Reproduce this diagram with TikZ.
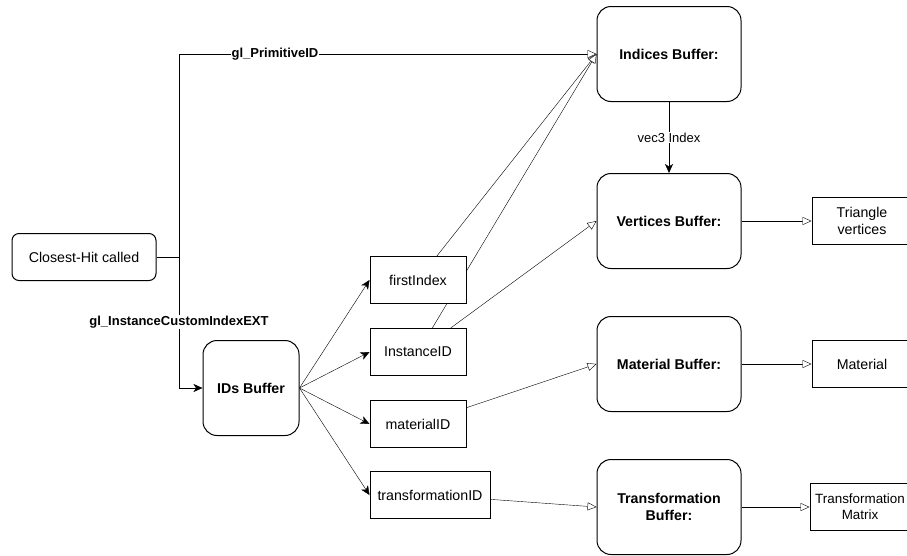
\documentclass[tikz,border=0pt]{standalone}
\usepackage{fontspec}
\setmainfont{Liberation Sans}
\usetikzlibrary{arrows.meta,positioning,backgrounds}

\begin{document}
\begin{tikzpicture}[x=1pt,y=-1pt]
    \tikzset{buffer/.style= {draw, rectangle
    , rounded corners=14pt
    , fill=white, line width=1pt
    , minimum width=144pt, minimum height=95pt
    , align=center
    , font=\fontsize{14.2}{16.5}\selectfont\bfseries
      }
    , field/.style= {draw, rectangle
    , fill=white, line width=1pt
    , minimum width=96pt, minimum height=47pt
    , align=center
    , font=\fontsize{14.2}{16.5}\selectfont
      }
    , lbl/.style= {fill=white, inner sep=1pt
    , font=\fontsize{13}{15}\selectfont\bfseries
      }
    , solid arrow/.style={-{Stealth[length=9pt,width=8pt,inset=2.5pt]}}
    , open arrow/.style={-{Triangle[open,length=9pt,width=8pt,fill=white]}}
    }

\useasboundingbox (0,0) rectangle (907,555);

\node [field, rounded corners=7pt, minimum width=144pt] (hit) at (84,257) {Closest-Hit called};
\node [buffer, minimum width=96pt] (ids) at (251,388) {IDs Buffer};

\node [field] (first) at (418,280) {firstIndex};
\node [field] (inst) at (418,352) {InstanceID};
\node [field] (matid) at (418,424) {materialID};
\node [field, minimum width=120pt] (transid) at (430,495) {transformationID};

\node [buffer] (indices) at (669,54) {Indices Buffer:};
\node [buffer] (vertices) at (669,221) {Vertices Buffer:};
\node [buffer] (material) at (669,364) {Material Buffer:};
\node [buffer] (transbuf) at (669,507) {Transformation\\Buffer:};

\node [field, minimum width=100pt] (tri) at (862,221) {Triangle\\vertices};
\node [field, minimum width=100pt] (mat) at (862,364) {Material};
\node [field, minimum width=100pt, font=\fontsize{13.4}{16}\selectfont] (transmat) at (860,507) {Transformation\\Matrix};

\begin{scope}[on background layer, line width=1pt]
\coordinate (split) at (179,257);
\draw (hit) -- (split);
\draw[open arrow] (split) |- node[lbl, pos=0.615] {gl\_PrimitiveID} (indices.west);
\draw[solid arrow] (split) |- node[lbl, pos=0.248] {gl\_InstanceCustomIndexEXT} (ids.west);

\foreach \f in {first, inst, matid, transid}
  \draw[solid arrow] (ids.east) -- (\f.west);

\draw[open arrow] (first) -- (indices.west);
\draw[open arrow] (inst) -- (indices.west);
\draw[open arrow] (inst) -- (vertices.west);
\draw[open arrow] (matid) -- (material.west);
\draw[open arrow] (transid) -- (transbuf.west);

\draw[solid arrow] (indices) -- node[lbl, font=\fontsize{13}{15}\selectfont] {vec3 Index} (vertices);

\draw[open arrow] (vertices) -- (tri);
\draw[open arrow] (material) -- (mat);
\draw[open arrow] (transbuf) -- (transmat);
\end{scope}
\end{tikzpicture}
\end{document}
